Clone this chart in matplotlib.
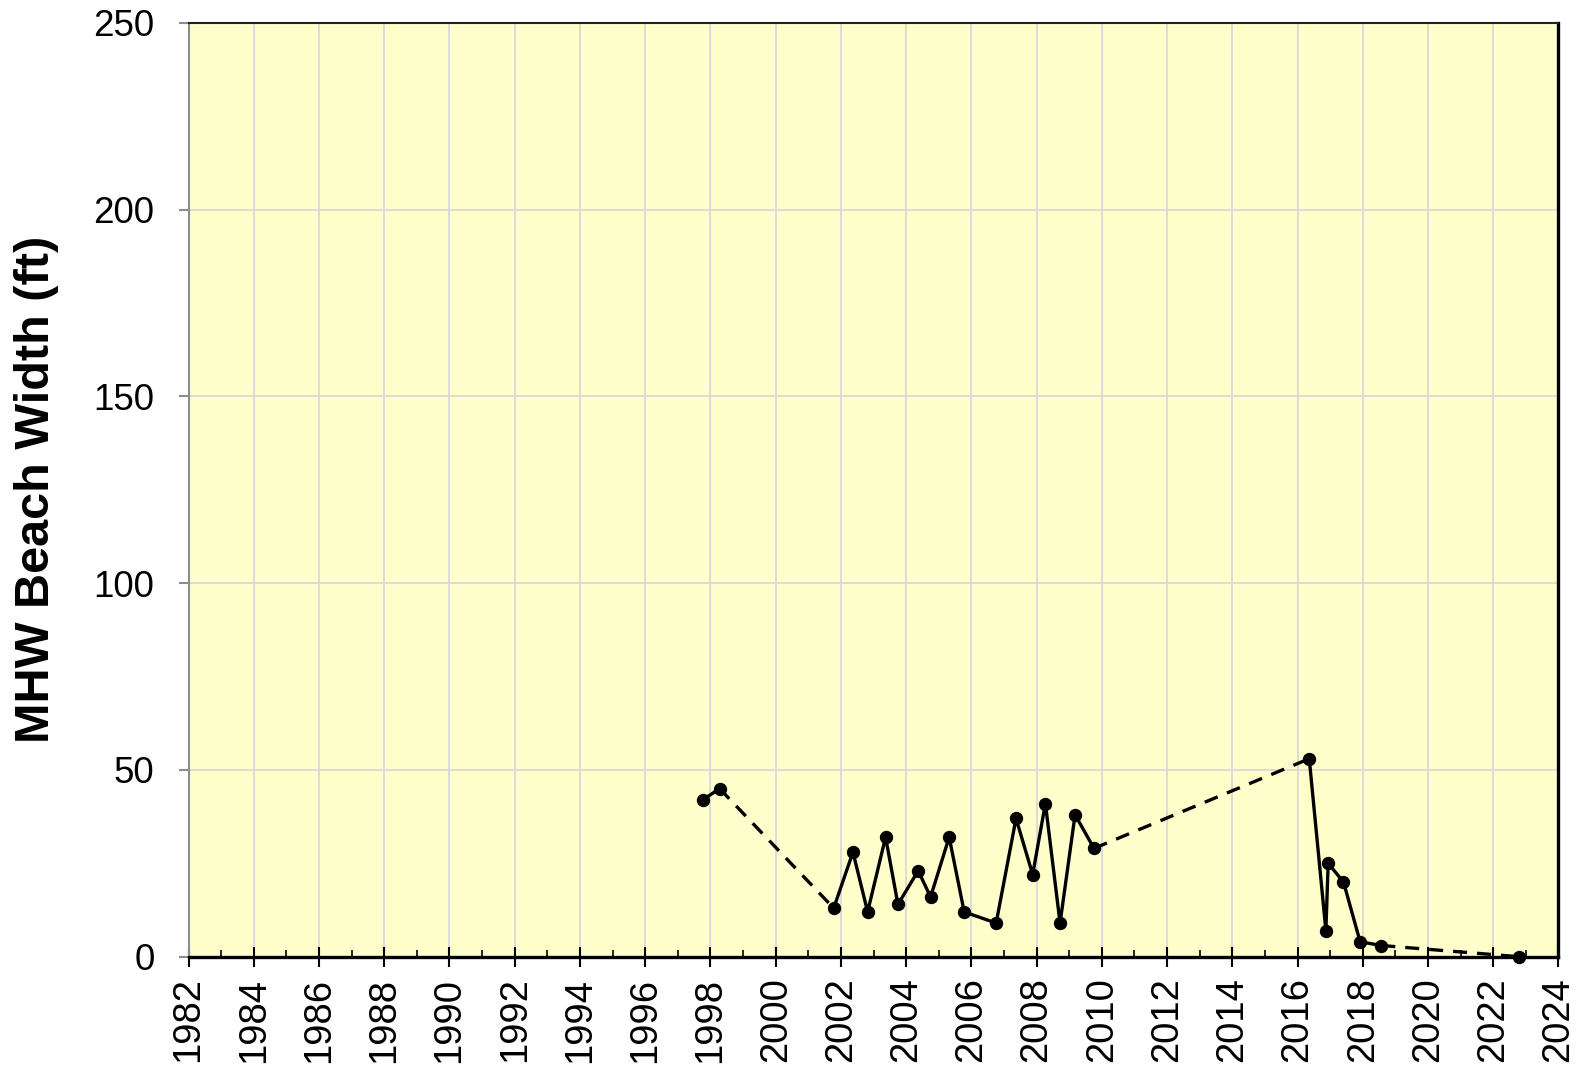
import matplotlib
matplotlib.use("Agg")
import matplotlib.pyplot as plt
from matplotlib.ticker import MultipleLocator

years = [1997.77, 1998.28, 2001.78, 2002.37, 2002.82, 2003.37, 2003.75, 2004.37,
         2004.75, 2005.32, 2005.78, 2006.76, 2007.37, 2007.88, 2008.27, 2008.72,
         2009.18, 2009.76, 2016.36, 2016.87, 2016.94, 2017.41, 2017.92, 2018.57,
         2022.80]
widths = [42, 45, 13, 28, 12, 32, 14, 23, 16, 32, 12, 9, 37, 22, 41, 9, 38, 29,
          53, 7, 25, 20, 4, 3, 0]
# index groups joined by solid lines; gaps between groups drawn dashed
solid_groups = [(0, 2), (2, 18), (18, 24), (24, 25)]

x_ticks = list(range(1982, 2025, 2))
y_ticks = [0, 50, 100, 150, 200, 250]

plt.rcParams['font.family'] = ['Liberation Sans', 'DejaVu Sans']

fig = plt.figure(figsize=(15.78, 10.68), dpi=100)
ax = fig.add_axes([0.1195, 0.1042, 0.9876 - 0.1195, 0.9787 - 0.1042])
ax.set_facecolor('#FFFFCC')

lw = 2.4
# dashed connectors between groups
for (a0, a1), (b0, b1) in zip(solid_groups[:-1], solid_groups[1:]):
    ax.plot([years[a1 - 1], years[b0]], [widths[a1 - 1], widths[b0]],
            color='black', lw=lw, ls=(0, (4.2, 3.0)), zorder=3, clip_on=False)
for g0, g1 in solid_groups:
    ax.plot(years[g0:g1], widths[g0:g1], color='black', lw=lw, zorder=3,
            clip_on=False)
ax.plot(years, widths, ls='none', marker='o', ms=8.6, color='black', zorder=4,
        clip_on=False)

ax.set_xlim(1982, 2024)
ax.set_ylim(0, 250)
ax.set_xticks(x_ticks)
ax.set_xticklabels([str(t) for t in x_ticks], rotation=90)
ax.xaxis.set_minor_locator(MultipleLocator(1))
ax.set_yticks(y_ticks)
ax.set_yticklabels([str(t) for t in y_ticks])

ax.grid(True, which='major', color='#D9D9D9', lw=1.3, zorder=0)
ax.set_axisbelow(True)

ax.tick_params(axis='x', which='major', direction='inout', length=14, width=1.5,
               color='black', labelsize=27.5, pad=8)
ax.tick_params(axis='x', which='minor', direction='in', length=5, width=1.2,
               color='black')
ax.tick_params(axis='y', which='major', direction='out', length=7.5, width=1.5,
               color='#8C8C8C', labelsize=26.5, pad=17)

for side, c, w in [('left', '#8C8C8C', 1.5), ('top', '#222222', 1.5),
                   ('right', 'black', 2.4), ('bottom', 'black', 2.4)]:
    ax.spines[side].set_color(c)
    ax.spines[side].set_linewidth(w)

ax.set_ylabel('MHW Beach Width (ft)', fontsize=35, fontweight='bold', labelpad=25)

fig.savefig('out.png', dpi=100)
